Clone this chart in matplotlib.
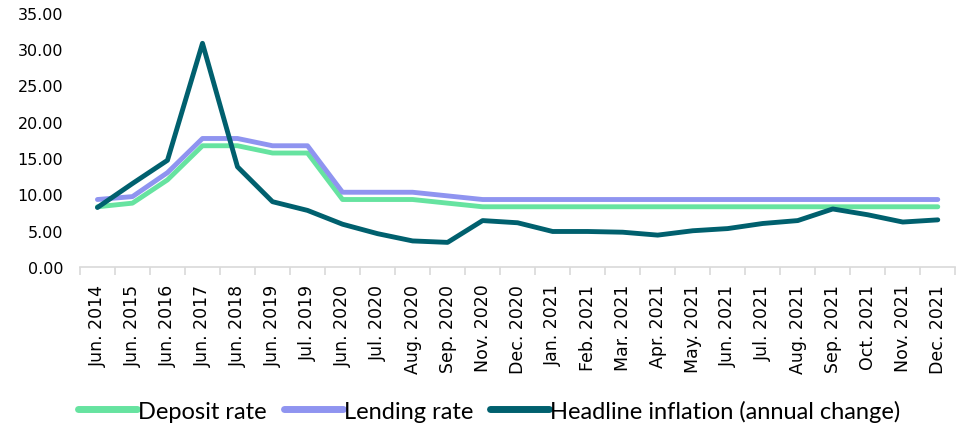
import matplotlib.pyplot as plt
from matplotlib.ticker import FixedLocator, FormatStrFormatter

plt.rcParams['font.family'] = ['DejaVu Sans']

dates = ["Jun. 2014", "Jun. 2015", "Jun. 2016", "Jun. 2017", "Jun. 2018", "Jun. 2019",
         "Jul. 2019", "Jun. 2020", "Jul. 2020", "Aug. 2020", "Sep. 2020", "Nov. 2020",
         "Dec. 2020", "Jan. 2021", "Feb. 2021", "Mar. 2021", "Apr. 2021", "May. 2021",
         "Jun. 2021", "Jul. 2021", "Aug. 2021", "Sep. 2021", "Oct. 2021", "Nov. 2021",
         "Dec. 2021"]
deposit = [8.3, 8.8, 12.0, 16.7, 16.7, 15.7, 15.7, 9.3, 9.3, 9.3, 8.8, 8.3,
           8.3, 8.3, 8.3, 8.3, 8.3, 8.3, 8.3, 8.3, 8.3, 8.3, 8.3, 8.3, 8.3]
lending = [9.3, 9.7, 13.0, 17.7, 17.7, 16.7, 16.7, 10.3, 10.3, 10.3, 9.8, 9.3,
           9.3, 9.3, 9.3, 9.3, 9.3, 9.3, 9.3, 9.3, 9.3, 9.3, 9.3, 9.3, 9.3]
inflation = [8.2, 11.5, 14.7, 30.8, 13.8, 9.0, 7.8, 5.9, 4.6, 3.6, 3.4, 6.4,
             6.1, 4.9, 4.9, 4.8, 4.4, 5.0, 5.3, 6.0, 6.4, 8.0, 7.2, 6.2, 6.5]

fig = plt.figure(figsize=(9.63, 4.31), dpi=100)
ax = fig.add_axes([0.083, 0.378, 0.909, 0.59])

x = range(len(dates))
ax.plot(x, deposit, color='#66E3A0', lw=3.5, solid_capstyle='round', label='Deposit rate')
ax.plot(x, lending, color='#8F94F0', lw=3.5, solid_capstyle='round', label='Lending rate')
ax.plot(x, inflation, color='#00606E', lw=3.5, solid_capstyle='round',
        label='Headline inflation (annual change)')

ax.set_xlim(-0.5, len(dates) - 0.5)
ax.set_ylim(0, 35)
ax.set_yticks([0, 5, 10, 15, 20, 25, 30, 35])
ax.yaxis.set_major_formatter(FormatStrFormatter('%.2f'))
ax.tick_params(axis='y', length=0, labelsize=11.5, pad=12)

ax.set_xticks(list(x))
ax.set_xticklabels(dates, rotation=90, fontsize=12.5)
ax.tick_params(axis='x', which='major', length=0, pad=12)
ax.xaxis.set_minor_locator(FixedLocator([i - 0.5 for i in range(len(dates) + 1)]))
ax.tick_params(axis='x', which='minor', length=6, color='#d9d9d9', width=1.2)

for s in ['top', 'right', 'left']:
    ax.spines[s].set_visible(False)
ax.spines['bottom'].set_color('#d9d9d9')
ax.spines['bottom'].set_linewidth(1.2)

leg = fig.legend(loc='lower center', bbox_to_anchor=(0.508, -0.03), ncol=3, frameon=False,
                 prop={'family': 'Lato', 'size': 17}, handlelength=2.5,
                 handletextpad=0.05, columnspacing=0.7)
for h in leg.get_lines():
    h.set_linewidth(5)

fig.savefig('out.png', dpi=100)
